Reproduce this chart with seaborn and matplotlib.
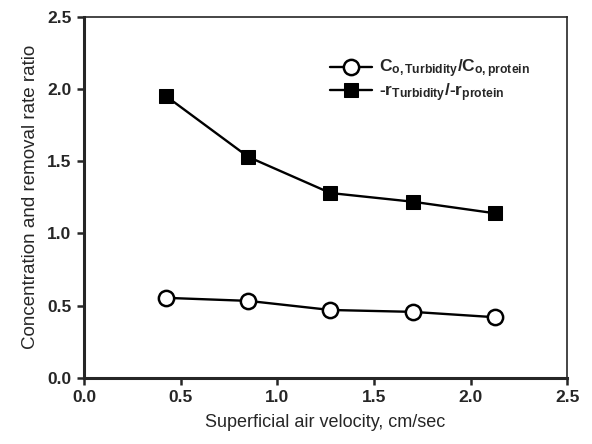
import matplotlib
matplotlib.use("Agg")
import matplotlib.pyplot as plt
import seaborn as sns
import pandas as pd

velocity = [0.425, 0.85, 1.275, 1.70, 2.125]
conc_ratio = [0.554, 0.533, 0.47, 0.457, 0.42]
rate_ratio = [1.95, 1.53, 1.28, 1.22, 1.14]
x_ticks = [0.0, 0.5, 1.0, 1.5, 2.0, 2.5]
y_ticks = [0.0, 0.5, 1.0, 1.5, 2.0, 2.5]
label_conc = r"C$_{\mathbf{o,Turbidity}}$/C$_{\mathbf{o,protein}}$"
label_rate = r"-r$_{\mathbf{Turbidity}}$/-r$_{\mathbf{protein}}$"

sns.set_style("ticks")
plt.rcParams['font.family'] = ['Liberation Sans', 'DejaVu Sans']
plt.rcParams['mathtext.fontset'] = 'custom'
plt.rcParams['mathtext.rm'] = 'Liberation Sans'
plt.rcParams['mathtext.bf'] = 'Liberation Sans:bold'
plt.rcParams['mathtext.it'] = 'Liberation Sans:italic'

df = pd.DataFrame({"v": velocity, "c": conc_ratio, "r": rate_ratio})

fig = plt.figure(figsize=(5.92, 4.44), dpi=100)
ax = fig.add_axes([0.142, 0.149, 0.816, 0.813])

sns.lineplot(data=df, x="v", y="c", ax=ax, color="black", linewidth=1.7,
             marker="o", markersize=11, markerfacecolor="white",
             markeredgecolor="black", markeredgewidth=1.8, label=label_conc)
sns.lineplot(data=df, x="v", y="r", ax=ax, color="black", linewidth=1.7,
             marker="s", markersize=10, markerfacecolor="black",
             markeredgecolor="black", label=label_rate)

ax.set_xlim(0, 2.5)
ax.set_ylim(0, 2.5)
ax.set_xticks(x_ticks)
ax.set_yticks(y_ticks)
ax.set_xticklabels([f"{t:.1f}" for t in x_ticks], fontweight="bold", fontsize=12.5)
ax.set_yticklabels([f"{t:.1f}" for t in y_ticks], fontweight="bold", fontsize=12.5)
ax.set_xlabel("Superficial air velocity, cm/sec", fontsize=13, labelpad=6)
ax.set_ylabel("Concentration and removal rate ratio", fontsize=13.5, labelpad=6)

for s in ["left", "bottom"]:
    ax.spines[s].set_linewidth(2.2)
for s in ["top", "right"]:
    ax.spines[s].set_linewidth(1.2)
ax.tick_params(axis="both", direction="out", length=5, width=1.8, pad=4)

leg = ax.legend(loc="upper right", bbox_to_anchor=(0.955, 0.93), frameon=False,
                fontsize=12.5, handlelength=2.4, handletextpad=0.4, labelspacing=0.05)
for t in leg.get_texts():
    t.set_fontweight("bold")

fig.savefig("out.png", dpi=100)
